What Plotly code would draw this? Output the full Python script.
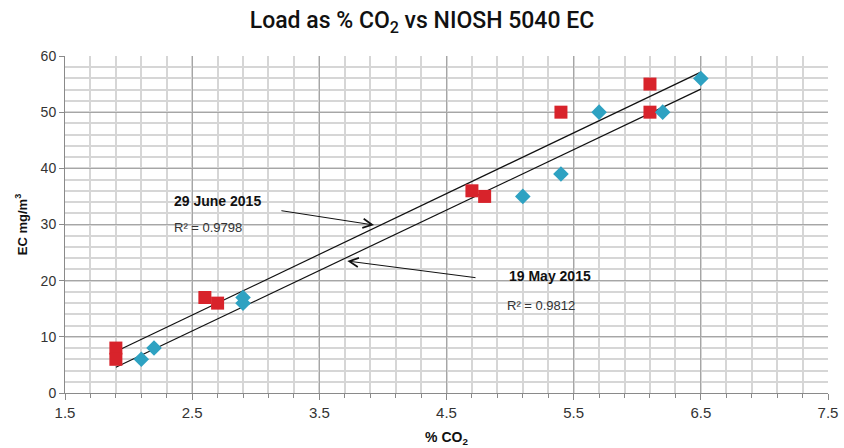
import numpy as np
import plotly.graph_objects as go

# Data
june_x = [1.9, 1.9, 2.6, 2.7, 4.7, 4.8, 5.4, 6.1, 6.1]
june_y = [8, 6, 17, 16, 36, 35, 50, 55, 50]
may_x = [2.1, 2.2, 2.9, 2.9, 5.1, 5.4, 5.7, 6.2, 6.5]
may_y = [6, 8, 17, 16, 35, 39, 50, 50, 56]
x_ticks = [1.5, 2.5, 3.5, 4.5, 5.5, 6.5, 7.5]
y_ticks = [0, 10, 20, 30, 40, 50, 60]

RED = "#d8232b"
TEAL = "#2ea2c2"

fig = go.Figure()

# trendlines
xmin = min(june_x + may_x)
xmax = max(june_x + may_x)
for xs, ys in [(june_x, june_y), (may_x, may_y)]:
    m, b = np.polyfit(xs, ys, 1)
    fig.add_trace(go.Scatter(x=[xmin, xmax], y=[m * xmin + b, m * xmax + b],
                             mode="lines", line=dict(color="#111111", width=1.2),
                             hoverinfo="skip", showlegend=False))

fig.add_trace(go.Scatter(x=june_x, y=june_y, mode="markers", name="29 June 2015",
                         marker=dict(symbol="square", size=13, color=RED),
                         showlegend=False))
fig.add_trace(go.Scatter(x=may_x, y=may_y, mode="markers", name="19 May 2015",
                         marker=dict(symbol="diamond", size=12, color=TEAL),
                         showlegend=False))

tickfont = dict(family="Liberation Sans Narrow, Arial Narrow, Liberation Sans, sans-serif",
                size=15, color="#333333")

fig.update_layout(
    width=844, height=448,
    margin=dict(l=65, r=16, t=56, b=55, autoexpand=False),
    paper_bgcolor="white", plot_bgcolor="white",
    title=dict(text="Load as % CO<sub>2</sub> vs NIOSH 5040 EC",
               x=0.5, xanchor="center", y=0.955, yanchor="middle",
               font=dict(family="Roboto, Liberation Sans, Arial, sans-serif", size=23,
                         color="#111111", weight=500)),
    xaxis=dict(range=[1.5, 7.5], tickmode="array", tickvals=x_ticks,
               ticktext=[str(v) for v in x_ticks], automargin=False,
               showgrid=True, gridcolor="#a6a6a6", gridwidth=1,
               showline=True, linecolor="#8a8a8a", linewidth=1,
               ticks="outside", ticklen=6, tickcolor="#8a8a8a",
               minor=dict(dtick=0.2, tick0=1.5, showgrid=True, gridcolor="#d6d6d6",
                          gridwidth=1.5, ticks="outside", ticklen=4, tickcolor="#8a8a8a"),
               zeroline=False, tickfont=tickfont,
               title=dict(text="<b>% CO<sub>2</sub></b>", standoff=12,
                          font=dict(family="Liberation Sans Narrow, Arial Narrow, sans-serif",
                                    size=14, color="#111111"))),
    yaxis=dict(range=[0, 60], tickmode="array", tickvals=y_ticks, automargin=False,
               showgrid=True, gridcolor="#a6a6a6", gridwidth=1,
               showline=True, linecolor="#8a8a8a", linewidth=1,
               ticks="outside", ticklen=5, tickcolor="#8a8a8a",
               minor=dict(dtick=2, tick0=0, showgrid=True, gridcolor="#d6d6d6", gridwidth=1.5),
               zeroline=False,
               tickfont=dict(family="Liberation Sans, Arial, sans-serif", size=14, color="#333333"),
               title=dict(text="<b>EC mg/m<sup>3</sup></b>", standoff=10,
                          font=dict(family="Liberation Sans, Arial, sans-serif",
                                    size=13, color="#111111"))),
    showlegend=False,
)

ann_font_b = dict(family="Liberation Sans, Arial, sans-serif", size=14, color="#111111")
ann_font = dict(family="Liberation Sans, Arial, sans-serif", size=13, color="#333333")

fig.add_annotation(x=2.70, y=34.2, xref="x", yref="y", text="<b>29 June 2015</b>",
                   showarrow=False, xanchor="center", yanchor="middle", font=ann_font_b)
fig.add_annotation(x=2.34, y=29.4, xref="x", yref="y", text="R² = 0.9798",
                   showarrow=False, xanchor="left", yanchor="middle", font=ann_font)
fig.add_annotation(x=5.31, y=20.8, xref="x", yref="y", text="<b>19 May 2015</b>",
                   showarrow=False, xanchor="center", yanchor="middle", font=ann_font_b)
fig.add_annotation(x=4.96, y=15.5, xref="x", yref="y", text="R² = 0.9812",
                   showarrow=False, xanchor="left", yanchor="middle", font=ann_font)

# arrows
fig.add_annotation(x=3.93, y=29.9, ax=3.19, ay=32.5, xref="x", yref="y", axref="x", ayref="y",
                   text="", showarrow=True, arrowhead=5, arrowsize=1.8, arrowwidth=1,
                   arrowcolor="#111111")
fig.add_annotation(x=3.72, y=23.5, ax=4.74, ay=20.5, xref="x", yref="y", axref="x", ayref="y",
                   text="", showarrow=True, arrowhead=5, arrowsize=1.8, arrowwidth=1,
                   arrowcolor="#111111")

fig.write_html("out.html")
